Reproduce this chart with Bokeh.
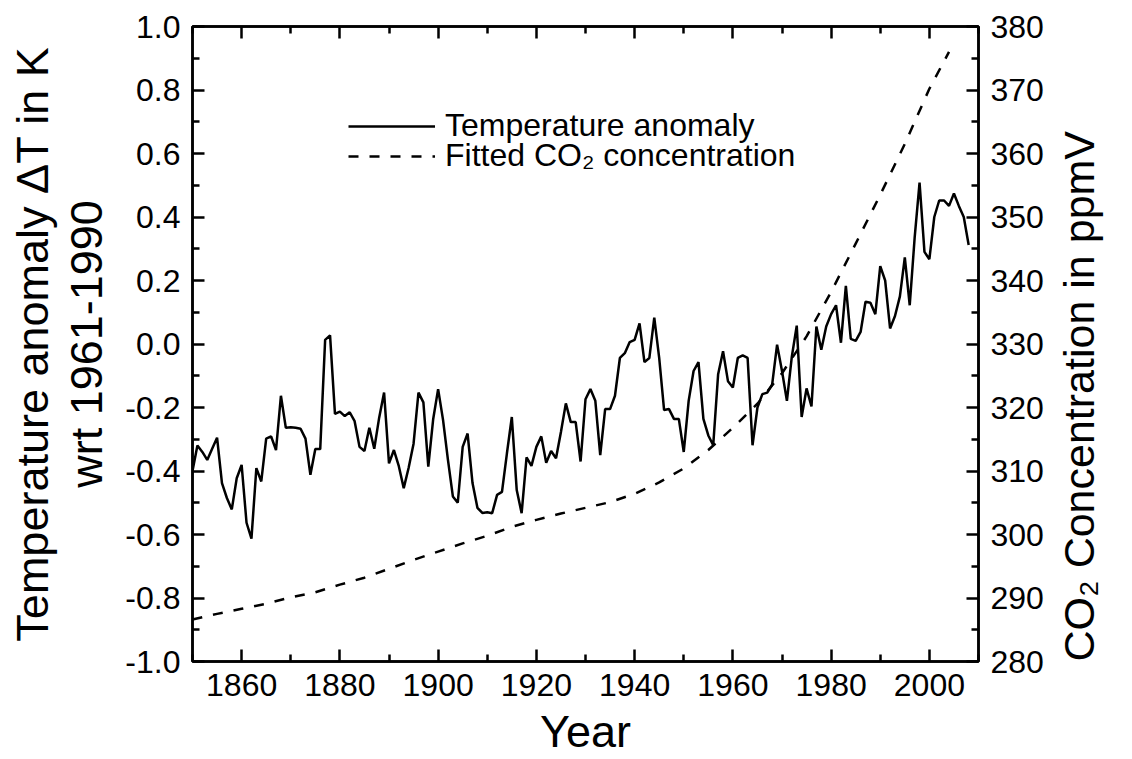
import math
from bokeh.plotting import figure
from bokeh.models import (Range1d, LinearAxis, FixedTicker, PrintfTickFormatter,
                          CustomJSTickFormatter, Legend, LegendItem)
from bokeh.embed import file_html
from bokeh.resources import INLINE

# ---------------- data ----------------
years = list(range(1850, 2009))
temp_anomaly = [
    -0.400, -0.320, -0.340, -0.365, -0.330, -0.295, -0.438, -0.485, -0.521, -0.423,
    -0.381, -0.563, -0.613, -0.391, -0.433, -0.298, -0.291, -0.334, -0.163, -0.264,
    -0.262, -0.264, -0.267, -0.298, -0.412, -0.331, -0.331, 0.013, 0.027, -0.220,
    -0.213, -0.227, -0.215, -0.243, -0.324, -0.337, -0.264, -0.330, -0.232, -0.153,
    -0.376, -0.334, -0.385, -0.454, -0.390, -0.314, -0.153, -0.184, -0.386, -0.236,
    -0.142, -0.239, -0.365, -0.480, -0.500, -0.324, -0.282, -0.438, -0.516, -0.532,
    -0.530, -0.533, -0.475, -0.466, -0.345, -0.230, -0.460, -0.533, -0.357, -0.384,
    -0.324, -0.291, -0.374, -0.337, -0.360, -0.277, -0.187, -0.246, -0.246, -0.370,
    -0.174, -0.142, -0.179, -0.350, -0.205, -0.205, -0.163, -0.044, -0.029, 0.006,
    0.013, 0.065, -0.057, -0.044, 0.083, -0.044, -0.208, -0.205, -0.236, -0.236,
    -0.340, -0.179, -0.085, -0.057, -0.236, -0.288, -0.319, -0.095, -0.023, -0.117,
    -0.137, -0.044, -0.036, -0.044, -0.319, -0.200, -0.158, -0.153, -0.127, -0.002,
    -0.085, -0.179, -0.040, 0.058, -0.230, -0.140, -0.197, 0.055, -0.018, 0.055,
    0.094, 0.122, 0.004, 0.183, 0.016, 0.010, 0.038, 0.133, 0.130, 0.094,
    0.245, 0.200, 0.049, 0.088, 0.150, 0.273, 0.122, 0.334, 0.508, 0.290,
    0.267, 0.400, 0.452, 0.452, 0.435, 0.474, 0.435, 0.400, 0.312,
]

co2_years = [1850, 1855, 1860, 1865, 1870, 1875, 1880, 1885, 1890, 1895,
             1900, 1905, 1910, 1915, 1920, 1925, 1930, 1935, 1940, 1945,
             1950, 1955, 1960, 1965, 1970, 1975, 1980, 1985, 1990, 1995,
             2000, 2004]
co2_ppmv = [286.6, 287.5, 288.3, 289.1, 290.1, 290.9, 292.1, 293.2, 294.6, 296.0,
            297.3, 298.6, 299.8, 301.2, 302.3, 303.3, 304.2, 305.1, 306.4, 308.2,
            310.4, 313.3, 316.8, 320.6, 325.4, 331.2, 338.2, 345.8, 353.5, 361.5,
            370.2, 376.0]

x_major_ticks = [1860, 1880, 1900, 1920, 1940, 1960, 1980, 2000]
x_minor_ticks = [1850, 1870, 1890, 1910, 1930, 1950, 1970, 1990, 2010]
y_major_ticks = [-1.0, -0.8, -0.6, -0.4, -0.2, 0.0, 0.2, 0.4, 0.6, 0.8, 1.0]
y_minor_ticks = [-0.9, -0.7, -0.5, -0.3, -0.1, 0.1, 0.3, 0.5, 0.7, 0.9]
co2_major_ticks = [280, 290, 300, 310, 320, 330, 340, 350, 360, 370, 380]
co2_minor_ticks = [285, 295, 305, 315, 325, 335, 345, 355, 365, 375]

FONT = "Liberation Sans"

# ---------------- figure ----------------
p = figure(width=1132, height=759, output_backend="svg", toolbar_location=None,
           x_range=Range1d(1850, 2010), y_range=Range1d(-1.0, 1.0),
           min_border_left=192, min_border_right=154, min_border_top=26,
           min_border_bottom=93)
p.grid.visible = False
p.outline_line_color = "black"
p.outline_line_width = 2.5
p.background_fill_color = "white"
p.border_fill_color = "white"
p.extra_y_ranges = {"co2": Range1d(280, 380)}


def style_axis(ax):
    ax.axis_line_color = "black"
    ax.axis_line_width = 2.5
    ax.major_tick_in = 12
    ax.major_tick_out = 0
    ax.minor_tick_in = 7
    ax.minor_tick_out = 0
    ax.major_tick_line_width = 2.5
    ax.minor_tick_line_width = 2.5
    ax.major_tick_line_color = "black"
    ax.minor_tick_line_color = "black"
    ax.major_label_text_font = FONT
    ax.major_label_text_color = "black"
    ax.major_label_standoff = 12
    ax.major_label_text_font_size = "32px"
    ax.axis_label_text_font = FONT
    ax.axis_label_text_font_style = "normal"
    ax.axis_label_text_color = "black"


xax = p.xaxis[0]
xax.ticker = FixedTicker(ticks=x_major_ticks, minor_ticks=x_minor_ticks)
style_axis(xax)
xax.axis_label = "Year"
xax.axis_label_text_font_size = "45px"
xax.axis_label_standoff = 7

# main left axis: ticks, tick labels and the second title line
yax = p.yaxis[0]
yax.ticker = FixedTicker(ticks=y_major_ticks, minor_ticks=y_minor_ticks)
yax.formatter = PrintfTickFormatter(format="%.1f")
style_axis(yax)
yax.axis_label = "wrt 1961-1990"
yax.axis_label_text_font_size = "45px"
yax.axis_label_standoff = 10

# outer left axis: only the first title line
title_ax = LinearAxis(ticker=FixedTicker(ticks=[]))
style_axis(title_ax)
title_ax.axis_line_color = None
title_ax.major_tick_in = 0
title_ax.minor_tick_in = 0
title_ax.major_label_standoff = 0
title_ax.axis_label = "Temperature anomaly \u0394T in K"
title_ax.axis_label_text_font_size = "45px"
title_ax.axis_label_standoff = 1
p.add_layout(title_ax, "left")

top_ax = LinearAxis(ticker=FixedTicker(ticks=x_major_ticks, minor_ticks=x_minor_ticks),
                    formatter=CustomJSTickFormatter(code="return ''"))
style_axis(top_ax)
top_ax.major_label_standoff = 0
p.add_layout(top_ax, "above")

right_ax = LinearAxis(y_range_name="co2",
                      ticker=FixedTicker(ticks=co2_major_ticks, minor_ticks=co2_minor_ticks))
style_axis(right_ax)
right_ax.axis_label = "CO\u2082 Concentration in ppmV"
right_ax.axis_label_text_font_size = "43px"
right_ax.axis_label_standoff = 32
try:
    right_ax.axis_label_orientation = math.pi / 2
except Exception:
    pass
try:
    right_ax.axis_label_align = "start"
except Exception:
    pass
p.add_layout(right_ax, "right")

# ---------------- series ----------------
r_temp = p.line(years, temp_anomaly, line_color="black", line_width=2.5)
r_co2 = p.line(co2_years, co2_ppmv, y_range_name="co2", line_color="black",
               line_width=2.5, line_dash="10 11")

# ---------------- legend (two single-row legends, no frame) ----------------
def make_legend(label, renderer, bottom):
    lg = Legend(items=[LegendItem(label=label, renderers=[renderer])],
                location=(156, bottom), orientation="vertical",
                border_line_color=None, background_fill_alpha=0,
                padding=0, margin=0, spacing=0,
                glyph_width=87, glyph_height=30, label_height=30,
                label_standoff=10, label_text_font=FONT,
                label_text_font_size="32px", label_text_color="black")
    p.add_layout(lg, "center")

make_legend("Temperature anomaly", r_temp, 517)
make_legend("Fitted CO\u2082 concentration", r_co2, 487)

open("out.html", "w").write(file_html(p, INLINE))
